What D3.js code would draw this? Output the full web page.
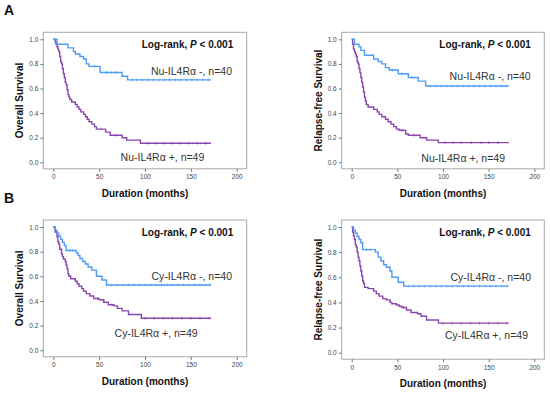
<!DOCTYPE html>
<html>
<head>
<meta charset="utf-8">
<script src="https://cdn.jsdelivr.net/npm/d3@7"></script>
<style>
  body { margin: 0; background: #fff; }
  svg { display: block; font-family: "Liberation Sans", Arial, sans-serif; }
</style>
</head>
<body>
<div id="chart"></div>
<script>
// Axis ticks
const xTicks = [0, 50, 100, 150, 200];
const yTicks = [0, 0.2, 0.4, 0.6, 0.8, 1.0];
const followUpEnd = 172;

// A - Nu-IL4Ra, overall survival  [months, survival]
const nuOsNeg = [[0,1],[4,0.96],[16,0.93],[22,0.90],[24,0.88],[29,0.86],[33,0.84],[36,0.80],[39,0.78],[51,0.73],[75,0.70],[81,0.67]];
const nuOsNegCens = [45,58,63,68,86,91,97,103,109,115,121,127,133,139,145,151,157,163,169];
const nuOsPos = [[0,1],[2,0.98],[3,0.96],[4,0.94],[5,0.92],[6,0.90],[7,0.86],[8,0.82],[9,0.80],[10,0.76],[11,0.72],[12,0.69],[13,0.65],[14,0.63],[15,0.59],[16,0.55],[17,0.53],[18,0.51],[20,0.49],[24,0.47],[26,0.45],[28,0.43],[30,0.41],[33,0.39],[35,0.37],[37,0.35],[39,0.33],[42,0.31],[45,0.29],[47,0.27],[57,0.245],[62,0.22],[75,0.20],[80,0.18],[95,0.155]];
const nuOsPosCens = [52,68,104,112,121,130,139,148,157,166];

// A - Nu-IL4Ra, relapse-free survival
const nuRfsNeg = [[0,1],[3,0.96],[8,0.94],[10,0.91],[14,0.87],[24,0.84],[29,0.82],[33,0.80],[37,0.77],[41,0.75],[51,0.72],[62,0.69],[73,0.66],[81,0.62]];
const nuRfsNegCens = [45,55,66,86,92,98,104,110,116,122,128,134,140,146,152,158,164,170];
const nuRfsPos = [[0,1],[1,0.96],[2,0.92],[3,0.90],[4,0.88],[5,0.86],[6,0.82],[7,0.80],[8,0.76],[9,0.73],[10,0.69],[11,0.65],[12,0.61],[13,0.57],[14,0.53],[15,0.50],[16,0.47],[18,0.45],[24,0.43],[28,0.41],[30,0.39],[33,0.37],[37,0.35],[40,0.33],[43,0.31],[46,0.29],[49,0.27],[52,0.26],[59,0.23],[62,0.22],[75,0.20],[82,0.18],[95,0.16]];
const nuRfsPosCens = [55,68,102,111,120,131,142,150,160];

// B - Cy-IL4Ra, overall survival
const cyOsNeg = [[0,1],[2,0.975],[4,0.95],[6,0.925],[8,0.90],[10,0.875],[12,0.85],[14,0.81],[25,0.79],[27,0.77],[29,0.745],[32,0.72],[35,0.70],[38,0.675],[42,0.65],[47,0.60],[53,0.57],[58,0.53]];
const cyOsNegCens = [18,21,63,70,76,82,88,94,100,106,112,118,124,130,136,142,148,154,160,166,171];
const cyOsPos = [[0,1],[2,0.96],[4,0.92],[5,0.88],[6,0.86],[7,0.82],[9,0.78],[10,0.76],[11,0.74],[13,0.72],[14,0.69],[15,0.66],[16,0.62],[17,0.60],[19,0.58],[24,0.56],[26,0.54],[28,0.52],[31,0.50],[33,0.48],[36,0.46],[40,0.44],[44,0.42],[50,0.41],[55,0.39],[60,0.37],[66,0.36],[70,0.34],[75,0.32],[82,0.29],[96,0.26]];
const cyOsPosCens = [48,64,100,110,120,130,140,150,160,170];

// B - Cy-IL4Ra, relapse-free survival
const cyRfsNeg = [[0,1],[2,0.975],[4,0.95],[6,0.925],[8,0.90],[10,0.875],[12,0.82],[26,0.80],[29,0.76],[32,0.73],[35,0.70],[38,0.68],[42,0.65],[44,0.60],[51,0.56],[57,0.53]];
const cyRfsNegCens = [16,20,62,68,74,80,86,92,98,104,110,116,122,128,134,140,146,152,158,164,170];
const cyRfsPos = [[0,1],[1,0.96],[2,0.93],[3,0.90],[4,0.86],[5,0.84],[6,0.80],[7,0.76],[8,0.73],[9,0.69],[10,0.65],[11,0.61],[12,0.57],[13,0.55],[14,0.52],[18,0.51],[24,0.49],[27,0.47],[30,0.45],[34,0.43],[38,0.42],[42,0.40],[44,0.39],[49,0.38],[52,0.37],[55,0.36],[60,0.34],[65,0.32],[72,0.31],[76,0.29],[82,0.26],[95,0.235]];
const cyRfsPosCens = [57,100,110,120,130,140,150,160,170];

const negColor = "#4e9bf2";
const posColor = "#8b45ae";

// Panel layout: plot ranges in px, label anchors (right edge, baseline)
const panels = [
  { letter: "A", yTitle: "Overall Survival", x: [53.3, 236.7], y: [162.3, 39.3],
    neg: nuOsNeg, negCens: nuOsNegCens, pos: nuOsPos, posCens: nuOsPosCens,
    negLabel: "Nu-IL4Rα -, n=40", posLabel: "Nu-IL4Rα +, n=49", negAt: [232, 75], posAt: [204.3, 161] },
  { letter: null, yTitle: "Relapse-free Survival", x: [351.7, 534.3], y: [162.3, 39.3],
    neg: nuRfsNeg, negCens: nuRfsNegCens, pos: nuRfsPos, posCens: nuRfsPosCens,
    negLabel: "Nu-IL4Rα -, n=40", posLabel: "Nu-IL4Rα +, n=49", negAt: [530.7, 80], posAt: [505, 161.5] },
  { letter: "B", yTitle: "Overall Survival", x: [53.3, 236.7], y: [350.3, 227],
    neg: cyOsNeg, negCens: cyOsNegCens, pos: cyOsPos, posCens: cyOsPosCens,
    negLabel: "Cy-IL4Rα -, n=40", posLabel: "Cy-IL4Rα +, n=49", negAt: [232, 280], posAt: [197.7, 336.5] },
  { letter: null, yTitle: "Relapse-free Survival", x: [351.7, 534.3], y: [352.7, 227],
    neg: cyRfsNeg, negCens: cyRfsNegCens, pos: cyRfsPos, posCens: cyRfsPosCens,
    negLabel: "Cy-IL4Rα -, n=40", posLabel: "Cy-IL4Rα +, n=49", negAt: [531, 280.5], posAt: [528, 339] }
];

const width = 550;
const height = 394;

const svg = d3.select("#chart")
  .append("svg")
    .attr("width", width)
    .attr("height", height);

const survivalAt = (steps, t) => {
  let s = 1;
  steps.forEach(([ti, si]) => { if (ti <= t) s = si; });
  return s;
};

panels.forEach(p => {
  const xScale = d3.scaleLinear().domain([0, 200]).range(p.x);
  const yScale = d3.scaleLinear().domain([0, 1]).range(p.y);

  const boxLeft = p.x[0] - 10;
  const boxRight = p.x[1] + 10;
  const boxTop = p.y[1] - 7;
  const boxBottom = p.y[0] + 6.5;

  const g = svg.append("g");

  // frame
  g.append("rect")
    .attr("x", boxLeft)
    .attr("y", boxTop)
    .attr("width", boxRight - boxLeft)
    .attr("height", boxBottom - boxTop)
    .attr("fill", "none")
    .attr("stroke", "#a8a8a8")
    .attr("stroke-width", 1);

  // y axis
  const leftAxis = d3.axisLeft(yScale)
    .tickValues(yTicks)
    .tickFormat(d3.format(".1f"))
    .tickSize(3)
    .tickPadding(2);
  const ya = g.append("g")
    .attr("transform", `translate(${boxLeft}, 0)`)
    .call(leftAxis);
  ya.select(".domain").remove();

  // x axis
  const bottomAxis = d3.axisBottom(xScale)
    .tickValues(xTicks)
    .tickSize(3)
    .tickPadding(3);
  const xa = g.append("g")
    .attr("transform", `translate(0, ${boxBottom})`)
    .call(bottomAxis);
  xa.select(".domain").remove();

  g.selectAll(".tick line").attr("stroke", "#777");
  g.selectAll(".tick text")
    .attr("fill", "#444")
    .attr("font-size", "6.5px")
    .attr("font-family", "'Liberation Sans', Arial, sans-serif");

  // axis titles
  g.append("text")
    .attr("transform", `translate(${boxLeft - 20}, ${(boxTop + boxBottom) / 2}) rotate(-90)`)
    .attr("text-anchor", "middle")
    .attr("font-size", "10px")
    .attr("font-weight", "bold")
    .attr("fill", "#111")
    .text(p.yTitle);

  g.append("text")
    .attr("x", (boxLeft + boxRight) / 2)
    .attr("y", boxBottom + 28)
    .attr("text-anchor", "middle")
    .attr("font-size", "10px")
    .attr("font-weight", "bold")
    .attr("fill", "#111")
    .text("Duration (months)");

  // curves
  const line = d3.line()
    .x(d => xScale(d[0]))
    .y(d => yScale(d[1]))
    .curve(d3.curveStepAfter);

  const curves = [
    { steps: p.pos, cens: p.posCens, color: posColor },
    { steps: p.neg, cens: p.negCens, color: negColor }
  ];
  curves.forEach(c => {
    const pts = c.steps.concat([[followUpEnd, c.steps[c.steps.length - 1][1]]]);
    g.append("path")
      .attr("d", line(pts))
      .attr("fill", "none")
      .attr("stroke", c.color)
      .attr("stroke-width", 1.4);
    g.selectAll(null)
      .data(c.cens)
      .join("line")
        .attr("x1", d => xScale(d))
        .attr("x2", d => xScale(d))
        .attr("y1", d => yScale(survivalAt(c.steps, d)) - 1.4)
        .attr("y2", d => yScale(survivalAt(c.steps, d)) + 1.4)
        .attr("stroke", c.color)
        .attr("stroke-width", 0.7);
  });

  // log-rank annotation
  const lr = g.append("text")
    .attr("x", p.x[1] - 3.5)
    .attr("y", p.y[1] + 9)
    .attr("text-anchor", "end")
    .attr("font-size", "10px")
    .attr("font-weight", "bold")
    .attr("fill", "#111");
  lr.append("tspan").text("Log-rank, ");
  lr.append("tspan").attr("font-style", "italic").text("P");
  lr.append("tspan").text(" < 0.001");

  // group labels
  g.append("text")
    .attr("x", p.negAt[0])
    .attr("y", p.negAt[1])
    .attr("text-anchor", "end")
    .attr("font-size", "10.5px")
    .attr("fill", "#333")
    .text(p.negLabel);
  g.append("text")
    .attr("x", p.posAt[0])
    .attr("y", p.posAt[1])
    .attr("text-anchor", "end")
    .attr("font-size", "10.5px")
    .attr("fill", "#333")
    .text(p.posLabel);

  if (p.letter) {
    g.append("text")
      .attr("x", 4)
      .attr("y", boxTop - 17.5)
      .attr("font-size", "14px")
      .attr("font-weight", "bold")
      .attr("fill", "#111")
      .text(p.letter);
  }
});
</script>
</body>
</html>
